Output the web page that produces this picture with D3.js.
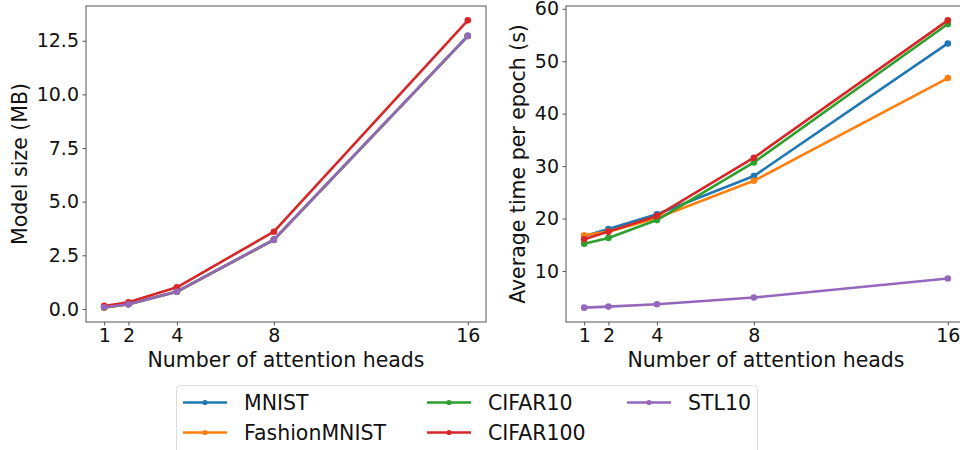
<!DOCTYPE html>
<html>
<head>
<meta charset="utf-8">
<script src="https://cdn.jsdelivr.net/npm/d3@7/dist/d3.min.js"></script>
<style>
  html, body { margin: 0; padding: 0; background: #fff; }
  svg { display: block; font-family: "DejaVu Sans", sans-serif; }
</style>
</head>
<body>
<svg id="chart" width="960" height="450"></svg>
<script>
// Number of attention heads (x positions)
const heads = [1, 2, 4, 8, 16];
const seriesNames = ["MNIST", "FashionMNIST", "CIFAR10", "CIFAR100", "STL10"];
const seriesColors = ["#1f77b4", "#ff7f0e", "#2ca02c", "#d62728", "#9467bd"];

// Model size (MB) per dataset
const sizeMNIST        = [0.07, 0.22, 0.80, 3.22, 12.72];
const sizeFashionMNIST = [0.06, 0.22, 0.80, 3.22, 12.72];
const sizeCIFAR10      = [0.08, 0.22, 0.81, 3.23, 12.73];
const sizeCIFAR100     = [0.14, 0.31, 1.01, 3.60, 13.45];
const sizeSTL10        = [0.08, 0.22, 0.81, 3.23, 12.73];

// Average time per epoch (s) per dataset
const timeMNIST        = [16.6, 18.0, 20.8, 28.1, 53.4];
const timeFashionMNIST = [16.8, 17.5, 20.1, 27.2, 46.8];
const timeCIFAR10      = [15.2, 16.3, 19.7, 30.7, 57.1];
const timeCIFAR100     = [16.05, 17.5, 20.5, 31.6, 57.8];
const timeSTL10        = [3.0, 3.2, 3.64, 4.92, 8.55];

// Tick labels
const xTicks = [1, 2, 4, 8, 16];
const sizeTicks = [0, 2.5, 5, 7.5, 10, 12.5];
const timeTicks = [10, 20, 30, 40, 50, 60];

const sizeSeries = [sizeMNIST, sizeFashionMNIST, sizeCIFAR10, sizeCIFAR100, sizeSTL10];
const timeSeries = [timeMNIST, timeFashionMNIST, timeCIFAR10, timeCIFAR100, timeSTL10];

const svg = d3.select("#chart");
const TICK_FONT = 19, LABEL_FONT = 20.5, LEGEND_FONT = 20.5;

function padded(lo, hi) {
  const p = (hi - lo) * 0.05;
  return [lo - p, hi + p];
}

function panel(opts) {
  const { left, right, top, bottom, series, yTicks, yFormat, yLabel, yLabelX } = opts;
  const x = d3.scaleLinear().domain(padded(d3.min(heads), d3.max(heads))).range([left, right]);
  const all = series.flat();
  const y = d3.scaleLinear().domain(padded(d3.min(all), d3.max(all))).range([bottom, top]);

  const g = svg.append("g");

  // lines + markers
  const line = d3.line().x((d, i) => x(heads[i])).y(d => y(d));
  series.forEach((vals, k) => {
    g.append("path")
      .datum(vals)
      .attr("d", line)
      .attr("fill", "none")
      .attr("stroke", seriesColors[k])
      .attr("stroke-width", 2.6)
      .attr("stroke-linejoin", "round")
      .attr("stroke-linecap", "round");
    g.selectAll(null).data(vals).enter().append("circle")
      .attr("cx", (d, i) => x(heads[i]))
      .attr("cy", d => y(d))
      .attr("r", 3.3)
      .attr("fill", seriesColors[k]);
  });

  // frame
  g.append("rect")
    .attr("x", left).attr("y", top)
    .attr("width", right - left).attr("height", bottom - top)
    .attr("fill", "none").attr("stroke", "#555").attr("stroke-width", 1);

  const xAxis = g.append("g")
    .attr("transform", `translate(0,${bottom})`)
    .call(d3.axisBottom(x).tickValues(xTicks).tickSize(3.5).tickPadding(3).tickFormat(d3.format("d")));
  const yAxis = g.append("g")
    .attr("transform", `translate(${left},0)`)
    .call(d3.axisLeft(y).tickValues(yTicks).tickSize(3.5).tickPadding(3.5).tickFormat(yFormat));
  [xAxis, yAxis].forEach(a => {
    a.select(".domain").remove();
    a.selectAll(".tick line").attr("stroke", "#555");
    a.selectAll(".tick text")
      .attr("fill", "#111")
      .style("font-family", "DejaVu Sans")
      .style("font-size", TICK_FONT + "px");
  });

  g.append("text")
    .attr("x", (left + right) / 2)
    .attr("y", 367)
    .attr("text-anchor", "middle")
    .attr("fill", "#111")
    .style("font-size", LABEL_FONT + "px")
    .text("Number of attention heads");

  g.append("text")
    .attr("transform", `translate(${yLabelX},${(top + bottom) / 2}) rotate(-90)`)
    .attr("text-anchor", "middle")
    .attr("dominant-baseline", "central")
    .attr("fill", "#111")
    .style("font-size", LABEL_FONT + "px")
    .text(yLabel);
}

panel({
  left: 86, right: 486, top: 6, bottom: 322,
  series: sizeSeries, yTicks: sizeTicks, yFormat: d3.format(".1f"),
  yLabel: "Model size (MB)", yLabelX: 20
});

panel({
  left: 566, right: 966, top: 6, bottom: 322,
  series: timeSeries, yTicks: timeTicks, yFormat: d3.format("d"),
  yLabel: "Average time per epoch (s)", yLabelX: 518
});

// Legend
const legend = svg.append("g");
legend.append("rect")
  .attr("x", 176.5).attr("y", 385.5)
  .attr("width", 581).attr("height", 80)
  .attr("rx", 4)
  .attr("fill", "#fff").attr("fill-opacity", 0.8)
  .attr("stroke", "#dcdcdc").attr("stroke-width", 1);

const colX = [183, 427, 627];
const rowY = [402.5, 432.5];
seriesNames.forEach((name, k) => {
  const col = Math.floor(k / 2), row = k % 2;
  const lx = colX[col], ly = rowY[row];
  const item = legend.append("g");
  item.append("line")
    .attr("x1", lx).attr("x2", lx + 44)
    .attr("y1", ly).attr("y2", ly)
    .attr("stroke", seriesColors[k]).attr("stroke-width", 2.6);
  item.append("circle")
    .attr("cx", lx + 22).attr("cy", ly).attr("r", 2.6)
    .attr("fill", seriesColors[k]);
  item.append("text")
    .attr("x", lx + 61).attr("y", ly)
    .attr("dominant-baseline", "central")
    .attr("fill", "#111")
    .style("font-size", LEGEND_FONT + "px")
    .text(name);
});
</script>
</body>
</html>
